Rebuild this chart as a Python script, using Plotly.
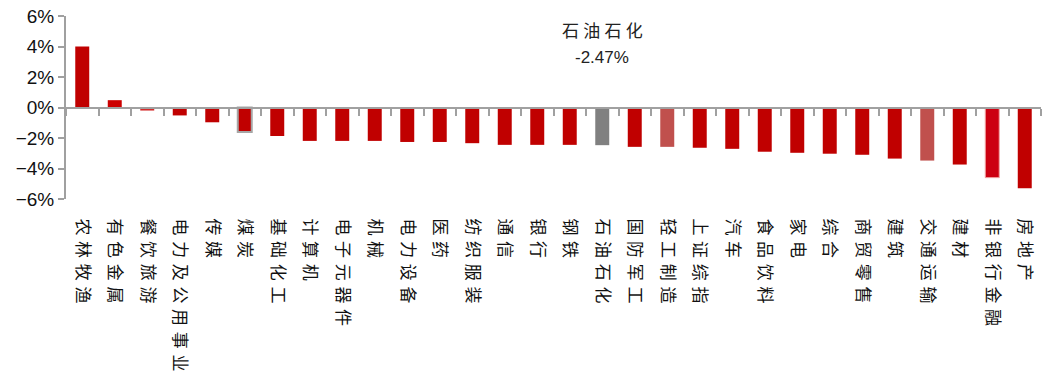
import plotly.graph_objects as go

# Industry returns (%), sorted from best to worst
categories = [
    "农林牧渔", "有色金属", "餐饮旅游", "电力及公用事业", "传媒", "煤炭",
    "基础化工", "计算机", "电子元器件", "机械", "电力设备", "医药",
    "纺织服装", "通信", "银行", "钢铁", "石油石化", "国防军工",
    "轻工制造", "上证综指", "汽车", "食品饮料", "家电", "综合",
    "商贸零售", "建筑", "交通运输", "建材", "非银行金融", "房地产",
]
returns = [
    4.00, 0.48, -0.20, -0.52, -0.97, -1.61,
    -1.87, -2.19, -2.19, -2.19, -2.26, -2.26,
    -2.34, -2.45, -2.45, -2.45, -2.47, -2.58,
    -2.58, -2.64, -2.71, -2.90, -2.97, -3.03,
    -3.10, -3.35, -3.48, -3.74, -4.60, -5.29,
]
y_ticks = [-6, -4, -2, 0, 2, 4, 6]
y_tick_labels = ["\u22126%", "\u22124%", "\u22122%", "0%", "2%", "4%", "6%"]

highlight_name = "石油石化"
highlight_value = -2.47

# Bar styling
base_color = "#C00000"
fill_overrides = {
    "有色金属": "#CC0000",
    "餐饮旅游": "#D42A2A",
    "石油石化": "#808080",
    "轻工制造": "#C0504D",
    "交通运输": "#C0504D",
    "非银行金融": "#CC0011",
}
outline_overrides = {
    "煤炭": ("#A6A6A6", 2),
    "非银行金融": ("#F2A5A5", 1),
}

fills = [fill_overrides.get(c, base_color) for c in categories]
line_colors = [outline_overrides.get(c, ("rgba(0,0,0,0)", 0))[0] for c in categories]
line_widths = [outline_overrides.get(c, ("rgba(0,0,0,0)", 0))[1] for c in categories]


def spaced(text, gap="\u2004"):
    return gap.join(text)


axis_grey = "#A0A0A0"
cjk_font = "Noto Sans CJK SC"
n = len(categories)
x_range = [-0.5, n - 0.5]

fig = go.Figure()
fig.add_trace(go.Bar(
    x=categories, y=returns,
    marker=dict(color=fills, line=dict(color=line_colors, width=line_widths)),
    showlegend=False, hoverinfo="x+y",
))
# Carrier trace for the bottom label axis
fig.add_trace(go.Scatter(
    x=categories, y=returns, xaxis="x2", mode="markers",
    marker=dict(opacity=0), showlegend=False, hoverinfo="skip",
))

fig.add_annotation(
    x=highlight_name, y=5.1, xref="x", yref="y",
    text=spaced(highlight_name, "\u2005"), showarrow=False,
    font=dict(family=cjk_font, size=17, color="#222222"),
)
fig.add_annotation(
    x=highlight_name, y=3.25, xref="x", yref="y",
    text=f"-{abs(highlight_value):.2f}%", showarrow=False,
    font=dict(family="Liberation Sans", size=17, color="#222222"),
)

fig.update_layout(
    width=1045, height=380,
    margin=dict(l=66, r=4, t=16, b=181),
    plot_bgcolor="white", paper_bgcolor="white",
    bargap=0.57,
    xaxis=dict(
        type="category", anchor="free", position=0.5, range=x_range,
        showline=True, linecolor=axis_grey, linewidth=2,
        ticks="outside", ticklen=7, tickwidth=2, tickcolor=axis_grey,
        tickson="boundaries", showticklabels=False, showgrid=False,
        zeroline=False,
    ),
    xaxis2=dict(
        type="category", overlaying="x", side="bottom", anchor="y",
        range=x_range,
        showline=False, showgrid=False, zeroline=False,
        ticks="outside", ticklen=15, tickcolor="rgba(0,0,0,0)",
        tickangle=90,
        tickmode="array", tickvals=categories,
        ticktext=[spaced(c) for c in categories],
        tickfont=dict(family=cjk_font, size=17, color="#111111"),
    ),
    yaxis=dict(
        range=[-6, 6], tickmode="array", tickvals=y_ticks, ticktext=y_tick_labels,
        showline=True, linecolor=axis_grey, linewidth=2,
        ticks="outside", ticklen=6, tickwidth=2, tickcolor=axis_grey,
        showgrid=False, zeroline=False,
        tickfont=dict(family="Liberation Sans", size=19, color="#111111"),
    ),
)

fig.write_html("out.html")
